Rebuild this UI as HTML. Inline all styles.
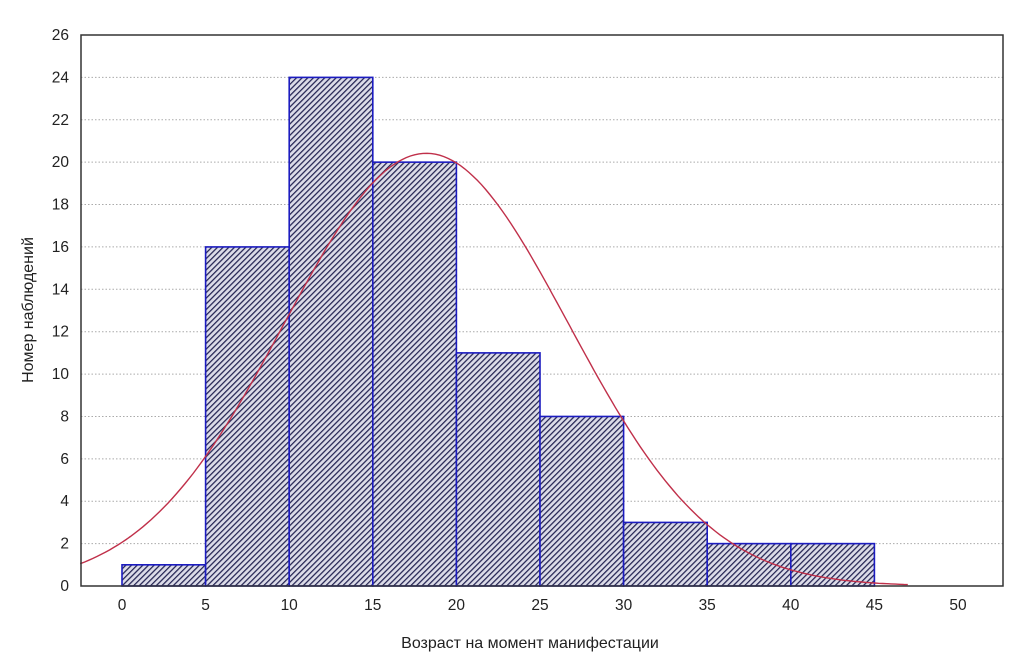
<!DOCTYPE html>
<html><head><meta charset="utf-8"><style>
body{margin:0;background:#fff;}
text{font-family:"Liberation Sans",sans-serif;fill:#222;}
</style></head><body>
<svg id="chart" width="1023" height="658" xmlns="http://www.w3.org/2000/svg">
<defs>
<pattern id="hatch" patternUnits="userSpaceOnUse" width="4" height="4" patternTransform="rotate(45)">
<rect width="4" height="4" fill="#dcdce8"/>
<line x1="0" y1="0" x2="0" y2="4" stroke="#232352" stroke-width="2.5"/>
</pattern>
</defs>
<g id="grid"></g><g id="bars"></g><g id="curve"></g><g id="axes"></g>
<text x="530" y="648" font-size="16" text-anchor="middle">Возраст на момент манифестации</text>
<text transform="translate(33,310) rotate(-90)" font-size="16" text-anchor="middle">Номер наблюдений</text>
</svg>
<script>
const binStarts=[0,5,10,15,20,25,30,35,40];
const counts=[1,16,24,20,11,8,3,2,2];
const binWidth=5;
const fitMean=[18.2];
const fitSd=[8.5];
const xTicks=[0,5,10,15,20,25,30,35,40,45,50];
const yTicks=[0,2,4,6,8,10,12,14,16,18,20,22,24,26];
const ns="http://www.w3.org/2000/svg";
const L=81,R=1003,T=35,B=586;
const X=v=>122+(v-0)*(958-122)/50;
const Y=v=>B-v*(B-T)/26;
function mk(t,a,p){const e=document.createElementNS(ns,t);for(const k in a)e.setAttribute(k,a[k]);p.appendChild(e);return e;}
const g=document.getElementById('grid'),b=document.getElementById('bars'),c=document.getElementById('curve'),ax=document.getElementById('axes');
yTicks.forEach(v=>{if(v>0&&v<26){const l=mk('line',{x1:L,x2:R,y1:Y(v),y2:Y(v),stroke:'#aaa','stroke-dasharray':'1.5,2','stroke-width':1},g);}
const t=mk('text',{x:L-12,y:Y(v)+5,'font-size':15.5,'text-anchor':'end'},ax);t.textContent=v;});
xTicks.forEach(v=>{const t=mk('text',{x:X(v),y:B+24,'font-size':15.5,'text-anchor':'middle'},ax);t.textContent=v;});
binStarts.forEach((s,i)=>{const r=mk('rect',{x:X(s),y:Y(counts[i]),width:X(s+binWidth)-X(s),height:B-Y(counts[i]),fill:'url(#hatch)',stroke:'#1c1cc0','stroke-width':1.6},b);});
const n=counts.reduce((a,v)=>a+v,0),m=fitMean[0],sd=fitSd[0];
let d='';for(let x=-2.5;x<=47;x+=0.25){const y=n*binWidth/(sd*Math.sqrt(2*Math.PI))*Math.exp(-((x-m)**2)/(2*sd*sd));d+=(d?'L':'M')+X(x).toFixed(1)+','+Y(y).toFixed(1);}
const p=mk('path',{d:d,fill:'none',stroke:'#c0304a','stroke-width':1.4},c);
const f=mk('rect',{x:L,y:T,width:R-L,height:B-T,fill:'none',stroke:'#333','stroke-width':1.5},ax);
</script>
</body></html>
